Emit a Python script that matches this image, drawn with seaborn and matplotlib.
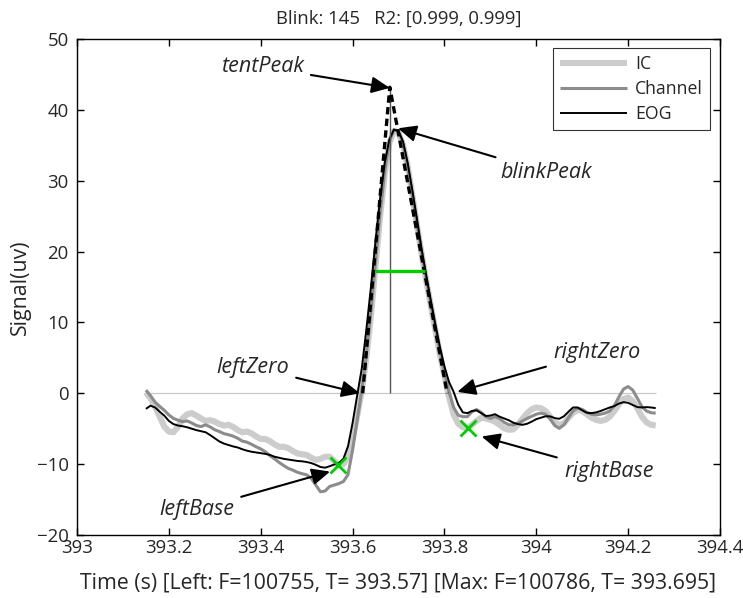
import numpy as np
import pandas as pd
import matplotlib
matplotlib.use("Agg")
import matplotlib.pyplot as plt
import seaborn as sns

# ---------------- data ----------------
time_s = [
    393.15, 393.16, 393.17, 393.18, 393.19, 393.20, 393.21, 393.22, 393.23, 393.24,
    393.25, 393.26, 393.27, 393.28, 393.29, 393.30, 393.31, 393.32, 393.33, 393.34,
    393.35, 393.36, 393.37, 393.38, 393.39, 393.40, 393.41, 393.42, 393.43, 393.44,
    393.45, 393.46, 393.47, 393.48, 393.49, 393.50, 393.51, 393.52, 393.53, 393.54,
    393.55, 393.56, 393.57, 393.58, 393.59, 393.60, 393.61, 393.62, 393.63, 393.64,
    393.65, 393.66, 393.67, 393.68, 393.69, 393.70, 393.71, 393.72, 393.73, 393.74,
    393.75, 393.76, 393.77, 393.78, 393.79, 393.80, 393.81, 393.82, 393.83, 393.84,
    393.85, 393.86, 393.87, 393.88, 393.89, 393.90, 393.91, 393.92, 393.93, 393.94,
    393.95, 393.96, 393.97, 393.98, 393.99, 394.00, 394.01, 394.02, 394.03, 394.04,
    394.05, 394.06, 394.07, 394.08, 394.09, 394.10, 394.11, 394.12, 394.13, 394.14,
    394.15, 394.16, 394.17, 394.18, 394.19, 394.20, 394.21, 394.22, 394.23, 394.24,
    394.25, 394.26,
]

ic_uv = [
    0.15, -0.7, -1.9, -3.3, -4.7, -5.4, -5.5, -4.7, -3.55, -2.95,
    -2.8, -3.15, -3.55, -3.9, -3.8, -4.0, -4.35, -4.55, -4.45, -4.75,
    -5.2, -5.5, -5.4, -5.65, -6.1, -6.45, -6.45, -6.75, -7.2, -7.55,
    -7.55, -7.75, -8.15, -8.5, -8.6, -8.7, -9.1, -9.4, -9.25, -8.95,
    -8.95, -9.55, -10.1, -10.0, -8.95, -6.4, -3.2, 0.3, 5.0, 11.0,
    18.0, 25.0, 31.0, 35.3, 37.0, 36.8, 35.0, 32.0, 28.0, 23.8,
    19.8, 16.0, 12.5, 9.0, 5.5, 2.5, -0.5, -3.0, -4.3, -4.8,
    -4.9, -4.45, -3.9, -3.45, -3.55, -3.75, -4.0, -4.45, -4.95, -5.15,
    -5.1, -4.45, -3.6, -2.8, -2.25, -2.0, -2.1, -2.5, -3.3, -4.1,
    -4.45, -4.25, -3.45, -2.75, -2.35, -2.5, -2.95, -3.45, -3.75, -3.9,
    -3.75, -3.3, -2.5, -1.55, -0.8, -0.6, -1.1, -2.1, -3.3, -4.1,
    -4.45, -4.55,
]

channel_uv = [
    0.45, -0.35, -1.25, -1.85, -2.4, -3.05, -3.55, -3.8, -4.0, -3.9,
    -4.2, -4.55, -4.7, -4.45, -4.75, -5.15, -5.4, -5.7, -5.85, -6.05,
    -6.35, -6.75, -6.9, -7.2, -7.55, -7.85, -8.25, -8.8, -9.25, -9.75,
    -10.2, -10.6, -10.85, -11.15, -11.35, -11.5, -12.0, -12.95, -13.9, -13.8,
    -13.15, -12.95, -12.75, -12.45, -11.5, -8.0, -3.8, 0.4, 5.4, 11.6,
    18.5, 25.5, 31.3, 35.5, 37.2, 37.0, 35.2, 32.0, 28.0, 24.0,
    20.0, 16.3, 12.8, 9.4, 6.0, 2.9, 0.2, -2.0, -3.1, -3.3,
    -3.3, -2.6, -2.3, -2.7, -3.3, -3.55, -3.3, -3.6, -4.1, -4.45,
    -4.45, -4.25, -3.9, -3.55, -3.25, -2.95, -2.8, -2.95, -3.6, -4.55,
    -4.95, -4.45, -3.45, -2.5, -2.1, -2.3, -2.7, -2.95, -3.05, -2.95,
    -2.8, -2.5, -1.75, -0.5, 0.6, 0.95, 0.45, -0.7, -1.9, -2.5,
    -2.75, -2.8,
]

eog_uv = [
    -2.2, -1.75, -2.0, -2.6, -3.15, -3.9, -4.35, -4.55, -4.65, -4.8,
    -5.0, -5.2, -5.35, -5.5, -5.9, -6.35, -6.8, -7.1, -7.3, -7.5,
    -7.65, -7.9, -8.1, -8.25, -8.35, -8.45, -8.55, -8.7, -8.95, -9.1,
    -9.25, -9.35, -9.45, -9.55, -9.6, -9.7, -9.85, -10.1, -10.4, -10.5,
    -10.3, -10.05, -9.85, -9.25, -7.5, -4.2, -0.3, 3.5, 9.0, 15.0,
    21.5, 27.5, 32.5, 35.8, 37.2, 37.0, 35.5, 32.5, 28.7, 24.7,
    20.5, 16.8, 13.2, 9.8, 6.6, 3.8, 1.6, 0.2, -1.6, -2.7,
    -2.8, -2.5, -2.4, -2.8, -3.2, -3.15, -2.95, -3.3, -3.55, -3.8,
    -4.15, -4.35, -4.45, -4.3, -4.0, -3.65, -3.45, -3.25, -3.25, -3.5,
    -3.6, -3.25, -2.6, -2.0, -2.0, -2.4, -2.75, -2.8, -2.7, -2.5,
    -2.25, -2.0, -1.8, -1.45, -1.25, -1.35, -1.65, -1.95, -2.0, -1.95,
    -2.0, -2.1,
]

series_names = ["IC", "Channel", "EOG"]

# tent lines (left zero -> tent peak -> right zero)
tent_x = [393.622, 393.681, 393.806]
tent_y = [0.0, 43.2, 0.0]
tent_peak_x = 393.681
tent_peak_y = 43.2

# half-height (green) segment
half_x = [393.649, 393.758]
half_y = [17.3, 17.3]

# left / right base markers
base_x = [393.569, 393.852]
base_y = [-10.1, -4.94]

# annotations: label, text position, arrow target
ann_labels = ["tentPeak", "blinkPeak", "leftZero", "rightZero", "rightBase", "leftBase"]
ann_text_x = [393.403, 394.021, 393.382, 394.132, 394.158, 393.260]
ann_text_y = [46.05, 31.2, 3.7, 5.8, -11.1, -16.4]
ann_tip_x = [393.681, 393.699, 393.616, 393.828, 393.881, 393.551]
ann_tip_y = [43.1, 37.4, 0.0, 0.2, -6.1, -11.05]

x_ticks = [393.0, 393.2, 393.4, 393.6, 393.8, 394.0, 394.2, 394.4]
x_tick_labels = ["393", "393.2", "393.4", "393.6", "393.8", "394", "394.2", "394.4"]
y_ticks = [-20, -10, 0, 10, 20, 30, 40, 50]
y_tick_labels = ["\u221220", "\u221210", "0", "10", "20", "30", "40", "50"]

title_text = "Blink: 145   R2: [0.999, 0.999]"
x_label = "Time (s) [Left: F=100755, T= 393.57] [Max: F=100786, T= 393.695]"
y_label = "Signal(uv)"

# ---------------- figure ----------------
sns.set_style("ticks")
plt.rcParams["font.family"] = ["Open Sans", "DejaVu Sans"]
plt.rcParams["axes.linewidth"] = 1.0

fig = plt.figure(figsize=(7.43, 5.98), dpi=100)
ax = fig.add_axes([77 / 743, 1 - 535 / 598, (720 - 77) / 743, (535 - 39) / 598])

df = pd.DataFrame({
    "time": time_s * 3,
    "signal": ic_uv + channel_uv + eog_uv,
    "series": [s for s in series_names for _ in time_s],
})

styles = {
    "IC": dict(color="#cccccc", lw=4.4, z=2),
    "Channel": dict(color="#8c8c8c", lw=2.2, z=3),
    "EOG": dict(color="#000000", lw=1.4, z=4),
}

# zero reference line across the data span
ax.hlines(0, time_s[0], time_s[-1], color="#c8c8c8", lw=0.9, zorder=1)

handles = []
for name in series_names:
    sub = df[df["series"] == name]
    st = styles[name]
    sns.lineplot(data=sub, x="time", y="signal", ax=ax, color=st["color"],
                 linewidth=st["lw"], estimator=None, sort=False, label=name,
                 zorder=st["z"], solid_capstyle="butt")
    handles.append(ax.lines[-1])

ax.vlines(tent_peak_x, 0, tent_peak_y, color="#555555", lw=1.0, zorder=5)
ax.plot(tent_x, tent_y, color="black", lw=2.4, dashes=(2.2, 1.3), zorder=6)
ax.plot(half_x, half_y, color="#00cc00", lw=2.4, zorder=7, solid_capstyle="butt")
ax.plot(base_x, base_y, linestyle="none", marker="x", markersize=12,
        markeredgewidth=2.0, color="#00cc00", zorder=8)

for lab, tx, ty, px, py in zip(ann_labels, ann_text_x, ann_text_y, ann_tip_x, ann_tip_y):
    ax.annotate(lab, xy=(px, py), xytext=(tx, ty), ha="center", va="center",
                fontsize=15.5, style="italic", zorder=9,
                arrowprops=dict(arrowstyle="-|>,head_length=0.55,head_width=0.25",
                                color="black", lw=1.5, mutation_scale=20,
                                shrinkA=3, shrinkB=0))

ax.set_xlim(393.0, 394.4)
ax.set_ylim(-20, 50)
ax.set_xticks(x_ticks)
ax.set_xticklabels(x_tick_labels)
ax.set_yticks(y_ticks)
ax.set_yticklabels(y_tick_labels)
ax.tick_params(axis="both", direction="in", top=True, right=True, length=5,
               width=1, labelsize=13.4, color="black")
ax.tick_params(axis="x", pad=3)
ax.tick_params(axis="y", pad=6)
for sp in ax.spines.values():
    sp.set_color("black")
    sp.set_linewidth(1.0)

ax.set_xlabel(x_label, fontsize=15.3, labelpad=11)
ax.set_ylabel(y_label, fontsize=15.3, labelpad=4)
ax.set_title(title_text, fontsize=13.3, pad=11)

leg = ax.legend(handles=handles, labels=series_names, loc="upper right",
                bbox_to_anchor=(0.9844, 0.9819), borderaxespad=0, frameon=True,
                fancybox=False, fontsize=12.7, handlelength=3.8, handletextpad=0.45,
                labelspacing=0.40, borderpad=0.4)
leg.get_frame().set_edgecolor("black")
leg.get_frame().set_linewidth(0.8)

fig.savefig("out.png", dpi=100)
